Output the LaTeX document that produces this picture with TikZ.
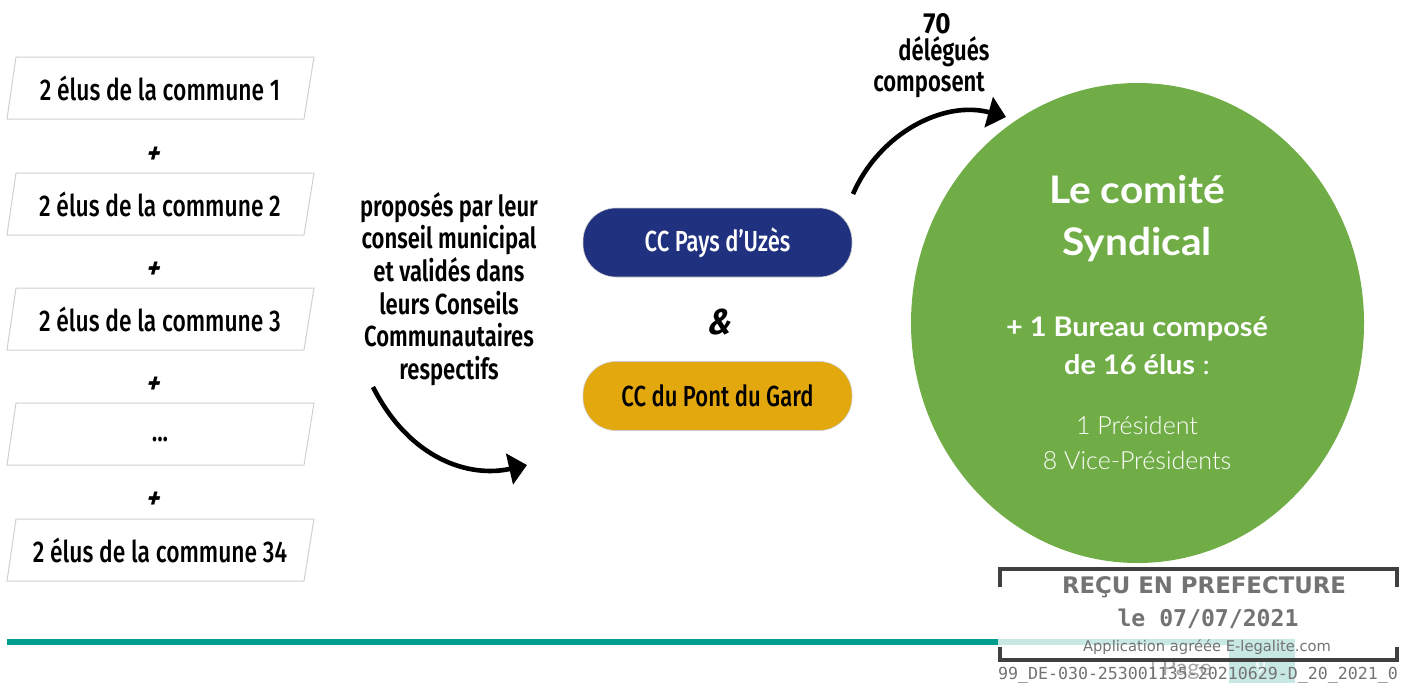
\documentclass[tikz,border=0pt]{standalone}
\usepackage{fontspec}
\usepackage{graphicx}
\setmainfont{Fira Sans}
\newfontfamily\cond[FakeStretch=0.76]{Fira Sans Medium}
\newfontfamily\condb[FakeStretch=0.76]{Fira Sans SemiBold}
\newfontfamily\slantb[FakeSlant=0.25,FakeStretch=0.85]{Fira Sans Bold}
\newfontfamily\uprightb[FakeStretch=0.9]{Fira Sans}
\newfontfamily\avn[FakeStretch=1.07]{Lato}
\newfontfamily\avnlight[FakeStretch=1.0]{Lato Light}
\newfontfamily\stampsans{DejaVu Sans}
\newfontfamily\stampmono{DejaVu Sans Mono}
\usetikzlibrary{arrows.meta,shapes.geometric}
\definecolor{blueCC}{HTML}{20317F}
\definecolor{goldCC}{HTML}{E2A80E}
\definecolor{greenC}{HTML}{70AD47}
\definecolor{tealL}{HTML}{009E8F}
\definecolor{tealP}{HTML}{C8E8E3}
\definecolor{frameG}{HTML}{D0D0D0}
\newcommand\threepts{\raisebox{-7pt}[0pt][0pt]{...}}
\tikzset{
 x=1pt,y=-1pt,
 commune/.style={font=\cond\fontsize{30}{34}\selectfont,text=black,inner sep=0pt},
 plussign/.style={font=\slantb\fontsize{30}{32}\selectfont,inner sep=0pt},
 pill/.style={rounded corners=33pt,inner sep=0pt,minimum width=269pt,minimum height=69pt,draw=black!20,line width=.6pt,font=\cond\fontsize{29}{33}\selectfont},
 bigarrow/.style={line width=4.6pt,-{Triangle[length=18pt,width=31pt]}},
 bold text/.style={font=\condb\fontsize{29}{32.6}\selectfont,align=center,inner sep=0pt},
 stampbar/.style={draw=black!75,line width=4pt},
 stamptxt/.style={text=black!55,inner sep=0pt},
 para/.style={draw=frameG,line width=1pt,fill=white},
 circletext/.style={text=white,inner sep=0pt,align=center}
}
\begin{document}
\begin{tikzpicture}
\useasboundingbox (0,0) rectangle (1408,683);
% parallelograms and their labels
\foreach \y/\t/\n in {57/2 élus de la commune 1/a,173/2 élus de la commune 2/b,288/2 élus de la commune 3/c,403/\threepts/d,519/2 élus de la commune 34/e}{
  \draw[para] (16,\y) -- (314,\y) -- (304,\y+62) -- (7,\y+62) -- cycle;
  \node[commune] (\n) at (160,\y+31.5) {\t};
}
\foreach \y/\n in {154/p1,269/p2,384/p3,499/p4}{
  \node[plussign] (\n) at (152,\y+1) {+};
}
% middle text
\node[bold text] (prop) at (449,289) {proposés par leur\\conseil municipal\\et validés dans\\leurs Conseils\\Communautaires\\respectifs};
\coordinate (s1) at (373,387);
\coordinate (e1) at (527,465);
\draw[bigarrow] (s1) .. controls (410,460) and (470,478) .. (e1);
% pills
\node[pill,fill=blueCC,text=white] (uzes) at (717.5,242.5) {\raisebox{-1.5pt}{CC Pays d’Uzès}};
\node[plussign,font=\slantb\fontsize{36}{38}\selectfont] (et) at (718,322) {\&};
\node[pill,fill=goldCC,text=black] (gard) at (717.5,396) {CC du Pont du Gard};
% circle
\node[fill=greenC,ellipse,inner sep=0pt,minimum width=453pt,minimum height=480pt] (comite) at (1137.5,323) {};
\node[circletext,font=\avn\bfseries\fontsize{38}{52}\selectfont] (t1) at (1137,219) {Le comité\\Syndical};
\node[circletext,font=\avn\fontsize{27}{38}\selectfont] (t2) at (1137,346) {\textbf{+ 1 Bureau composé}\\\textbf{de 16 élus} :};
\node[circletext,font=\avnlight\fontsize{25}{34.5}\selectfont] (t3) at (1137,443) {1 Président\\8 Vice-Présidents};
% top text and arrow
\node[inner sep=0pt,font=\uprightb\bfseries\fontsize{29}{30}\selectfont] (n70) at (937,24) {70};
\node[inner sep=0pt,font=\condb\fontsize{29}{30}\selectfont] (deleg) at (944,52) {délégués};
\node[inner sep=0pt,font=\condb\fontsize{29}{30}\selectfont] (comp) at (929,85) {composent};
\coordinate (s2) at (853,194);
\coordinate (e2) at (1006,117);
\draw[bigarrow] (s2) .. controls (880,132) and (945,100) .. (e2);
% footer
\fill[tealL] (7,639) rectangle (998,645);
\fill[tealP] (998,639) rectangle (1295,645);
\fill[tealP] (1229,639) rectangle (1295,683);
\node[inner sep=0pt,text=black!35,font=\avn\fontsize{22}{24}\selectfont] (page) at (1181,669) {| Page};
\node[inner sep=0pt,text=white,font=\avn\fontsize{18}{20}\selectfont] (num) at (1261,667) {9};
% stamp
\draw[stampbar] (1000,587) -- (1000,569) -- (1397,569) -- (1397,587);
\draw[stampbar] (1000,647) -- (1000,660) -- (1397,660) -- (1397,647);
\node[stamptxt,font=\stampsans\bfseries\fontsize{21}{24}\selectfont] (recu) at (1204,587) {\resizebox{284pt}{!}{REÇU EN PREFECTURE}};
\node[stamptxt,font=\stampmono\bfseries\fontsize{22}{24}\selectfont] (date) at (1208,619) {\resizebox{181pt}{!}{le 07/07/2021}};
\node[stamptxt,font=\stampsans\fontsize{14}{16}\selectfont] (appli) at (1207,647) {\resizebox{248pt}{!}{Application agréée E-legalite.com}};
\node[stamptxt,font=\stampmono\fontsize{12}{14}\selectfont] (ref) at (1198,675) {\resizebox{400pt}{!}{99\_DE-030-253001135-20210629-D\_20\_2021\_0}};
\end{tikzpicture}
\end{document}
